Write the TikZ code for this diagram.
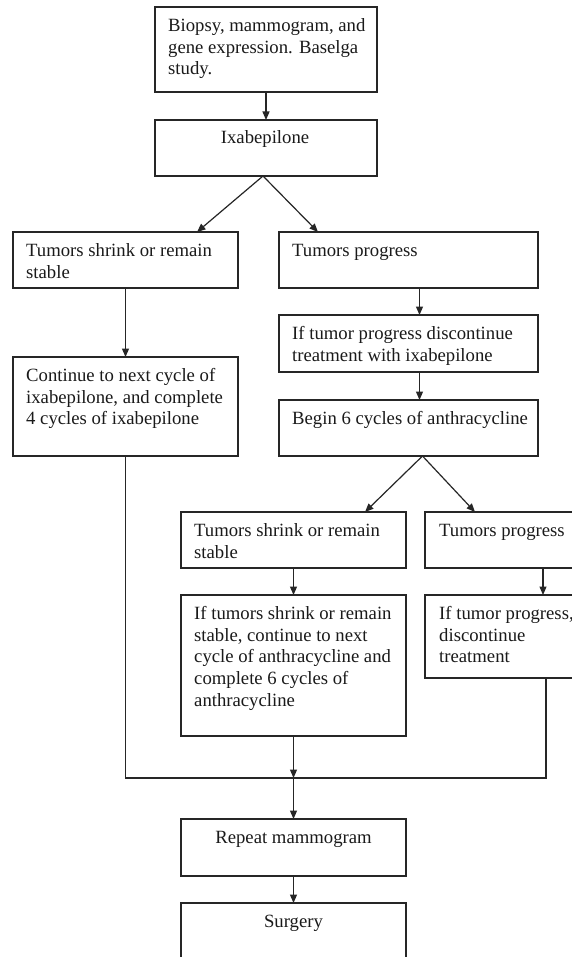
\documentclass[tikz,border=0pt]{standalone}
\usepackage{fontspec}
\setmainfont{Liberation Serif}
\usetikzlibrary{arrows.meta,calc}
\definecolor{lncol}{HTML}{262626}
\definecolor{txcol}{HTML}{1A1A1A}
\begin{document}
\begin{tikzpicture}[x=1pt,y=-1pt,
  box/.style={draw=lncol, line width=1.2pt, anchor=north west, inner sep=0pt, outer sep=0pt},
  txt/.style={anchor=north west, inner sep=0pt, align=left, text=txcol, font=\fontsize{18.7}{21.9}\selectfont},
  ctxt/.style={anchor=north, inner sep=0pt, align=center, text=txcol, font=\fontsize{18.7}{21.9}\selectfont},
  arr/.style={draw=lncol, line width=1.2pt, -{Triangle[length=8.5pt,width=7pt]}},
  wire/.style={draw=lncol, line width=1.2pt}]
\clip (0,0) rectangle (572,957);
\fill[white] (0,0) rectangle (572,957);
% boxes
\node[box, minimum width=222pt, minimum height=85pt] (b1) at (155,7) {};
\node[box, minimum width=222pt, minimum height=56pt] (ix) at (155,120) {};
\node[box, minimum width=225pt, minimum height=56pt] (ts1) at (13,232) {};
\node[box, minimum width=259pt, minimum height=56pt] (tp1) at (279,232) {};
\node[box, minimum width=225pt, minimum height=99pt] (cont) at (13,357) {};
\node[box, minimum width=259pt, minimum height=57pt] (itp) at (279,315) {};
\node[box, minimum width=259pt, minimum height=56pt] (beg) at (279,400) {};
\node[box, minimum width=225pt, minimum height=56pt] (ts2) at (181,512) {};
\node[box, minimum width=200pt, minimum height=56pt] (tp2) at (425,512) {};
\node[box, minimum width=225pt, minimum height=141pt] (its2) at (181,595) {};
\node[box, minimum width=200pt, minimum height=83pt] (itp2) at (425,595) {};
\node[box, minimum width=225pt, minimum height=57pt] (rm) at (181,819) {};
\node[box, minimum width=225pt, minimum height=80pt] (sur) at (181,903) {};
% texts
\node[txt] (b1t) at ([shift={(13pt,-8.6pt)}]b1.north west) {\strut Biopsy, mammogram, and\\gene expression. Baselga\\study.};
\node[ctxt] (ixt) at ([shift={(-1pt,-7.6pt)}]ix.north) {\strut Ixabepilone};
\node[txt] (ts1t) at ([shift={(13pt,-8.6pt)}]ts1.north west) {\strut Tumors shrink or remain\\stable};
\node[txt] (tp1t) at ([shift={(13pt,-8.6pt)}]tp1.north west) {\strut Tumors progress};
\node[txt] (contt) at ([shift={(13pt,-8.6pt)}]cont.north west) {\strut Continue to next cycle of\\ixabepilone, and complete\\4 cycles of ixabepilone};
\node[txt] (itpt) at ([shift={(13pt,-8.6pt)}]itp.north west) {\strut If tumor progress discontinue\\treatment with ixabepilone};
\node[txt] (begt) at ([shift={(13pt,-8.6pt)}]beg.north west) {\strut Begin 6 cycles of anthracycline};
\node[txt] (ts2t) at ([shift={(13pt,-8.6pt)}]ts2.north west) {\strut Tumors shrink or remain\\stable};
\node[txt] (tp2t) at ([shift={(14pt,-8.6pt)}]tp2.north west) {\strut Tumors progress};
\node[txt] (its2t) at ([shift={(13pt,-8.6pt)}]its2.north west) {\strut If tumors shrink or remain\\stable, continue to next\\cycle of anthracycline and\\complete 6 cycles of\\anthracycline};
\node[txt] (itp2t) at ([shift={(14pt,-8.6pt)}]itp2.north west) {\strut If tumor progress,\\discontinue\\treatment};
\node[ctxt] (rmt) at ([shift={(0pt,-8.6pt)}]rm.north) {\strut Repeat mammogram};
\node[ctxt] (surt) at ([shift={(0pt,-8.6pt)}]sur.north) {\strut Surgery};
% connectors
\draw[arr] (b1.south) -- (ix.north);
\draw[arr] ([xshift=-3pt]ix.south) -- ([xshift=-41pt]ts1.north east);
\draw[arr] ([xshift=-3pt]ix.south) -- ([xshift=39pt]tp1.north west);
\draw[arr] (ts1.south) -- (cont.north);
\draw[arr] ([xshift=11pt]tp1.south) -- ([xshift=11pt]itp.north);
\draw[arr] ([xshift=11pt]itp.south) -- ([xshift=11pt]beg.north);
\draw[arr] ([xshift=14pt]beg.south) -- ([xshift=-41pt]ts2.north east);
\draw[arr] ([xshift=14pt]beg.south) -- ([xshift=50pt]tp2.north west);
\draw[arr] (ts2.south) -- (its2.north);
\draw[arr] ([xshift=118pt]tp2.south west) -- ([xshift=118pt]itp2.north west);
\path (its2.south) ++(0,42) coordinate (m);
\coordinate (r) at ([xshift=121pt]itp2.south west);
\draw[wire] (cont.south) |- (m) -| (r);
\draw[arr] (its2.south) -- (m);
\draw[arr] (m) -- (rm.north);
\draw[arr] (rm.south) -- (sur.north);
\end{tikzpicture}
\end{document}
